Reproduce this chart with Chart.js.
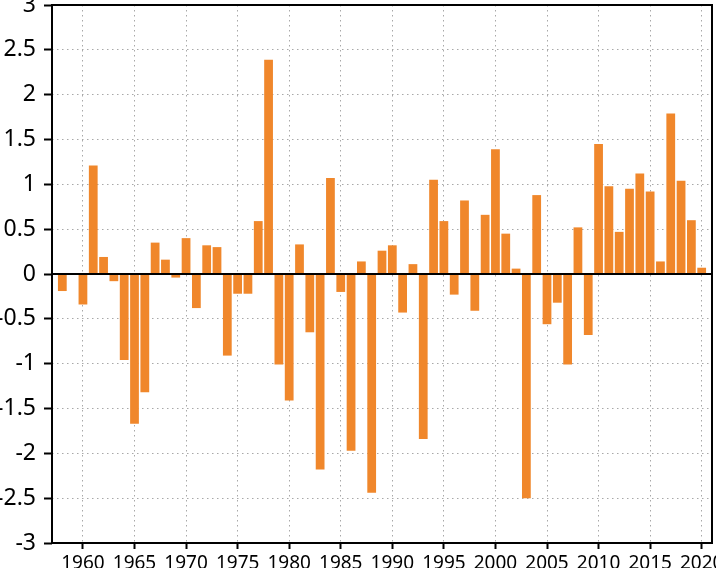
<!DOCTYPE html>
<html>
<head>
<meta charset="utf-8">
<script src="https://cdn.jsdelivr.net/npm/chart.js@4"></script>
<style>
  html, body { margin: 0; padding: 0; background: #fff; overflow: hidden; }
  #wrap { width: 716px; height: 568px; }
</style>
</head>
<body>
<div id="wrap"><canvas id="chart" width="716" height="568"></canvas></div>
<script>
// Years shown on the chart
const years = [
  1958, 1959, 1960, 1961, 1962, 1963, 1964, 1965, 1966, 1967,
  1968, 1969, 1970, 1971, 1972, 1973, 1974, 1975, 1976, 1977,
  1978, 1979, 1980, 1981, 1982, 1983, 1984, 1985, 1986, 1987,
  1988, 1989, 1990, 1991, 1992, 1993, 1994, 1995, 1996, 1997,
  1998, 1999, 2000, 2001, 2002, 2003, 2004, 2005, 2006, 2007,
  2008, 2009, 2010, 2011, 2012, 2013, 2014, 2015, 2016, 2017,
  2018, 2019, 2020
];

// Anomaly values
const anomalies = [
  -0.19, 0.01, -0.34, 1.21, 0.19, -0.08, -0.96, -1.67, -1.32, 0.35,
  0.16, -0.04, 0.40, -0.38, 0.32, 0.30, -0.91, -0.22, -0.22, 0.59,
  2.39, -1.01, -1.41, 0.33, -0.65, -2.18, 1.07, -0.20, -1.97, 0.14,
  -2.44, 0.26, 0.32, -0.43, 0.11, -1.84, 1.05, 0.59, -0.23, 0.82,
  -0.41, 0.66, 1.39, 0.45, 0.06, -2.50, 0.88, -0.56, -0.32, -1.01,
  0.52, -0.68, 1.45, 0.98, 0.47, 0.95, 1.12, 0.92, 0.14, 1.79,
  1.04, 0.60, 0.07
];

// Axis limits
const xMin = 1957, xMax = 2021;
const yMin = -3, yMax = 3;

const points = years.map((y, i) => ({ x: y, y: anomalies[i] }));

// frame around the plot + solid zero line
const framePlugin = {
  id: 'frame',
  afterDatasetsDraw(chart) {
    const { ctx, chartArea, scales } = chart;
    const y0 = scales.y.getPixelForValue(0);
    ctx.save();
    ctx.strokeStyle = '#000';
    ctx.lineWidth = 2;
    ctx.beginPath();
    ctx.moveTo(chartArea.left, y0);
    ctx.lineTo(chartArea.right, y0);
    ctx.stroke();
    ctx.strokeRect(chartArea.left, chartArea.top,
      chartArea.right - chartArea.left, chartArea.bottom - chartArea.top);
    ctx.restore();
  }
};

new Chart(document.getElementById('chart'), {
  type: 'bar',
  data: {
    datasets: [{
      data: points,
      backgroundColor: '#f0872b',
      borderWidth: 0,
      barPercentage: 0.85,
      categoryPercentage: 1
    }]
  },
  options: {
    responsive: false,
    animation: false,
    layout: { padding: { top: 5, right: 4, left: 0, bottom: 0 } },
    plugins: { legend: { display: false }, tooltip: { enabled: false } },
    scales: {
      x: {
        type: 'linear',
        min: xMin,
        max: xMax,
        offset: false,
        afterFit: s => {
          s.height = 25;
          s.paddingLeft = 0;
          s.paddingRight = 0;
        },
        grid: {
          offset: false,
          color: '#a8a8a8',
          lineWidth: 1,
          tickColor: '#000',
          tickWidth: 2,
          tickLength: 6
        },
        border: { display: false, dash: [1.5, 3.5] },
        ticks: {
          stepSize: 5,
          includeBounds: false,
          autoSkip: false,
          maxRotation: 0,
          padding: 3,
          color: '#000',
          font: { family: 'Noto Sans', size: 19 },
          callback: v => String(v)
        }
      },
      y: {
        min: yMin,
        max: yMax,
        afterFit: s => {
          s.width = 52;
          s.paddingTop = 0;
          s.paddingBottom = 0;
        },
        grid: {
          color: '#a8a8a8',
          lineWidth: 1,
          tickColor: '#000',
          tickWidth: 2,
          tickLength: 8
        },
        border: { display: false, dash: [1.5, 3.5] },
        ticks: {
          stepSize: 0.5,
          padding: 8,
          color: '#000',
          font: { family: 'Noto Sans', size: 23 },
          callback: v => String(Math.round(v * 10) / 10)
        }
      }
    }
  },
  plugins: [framePlugin]
});
</script>
</body>
</html>
